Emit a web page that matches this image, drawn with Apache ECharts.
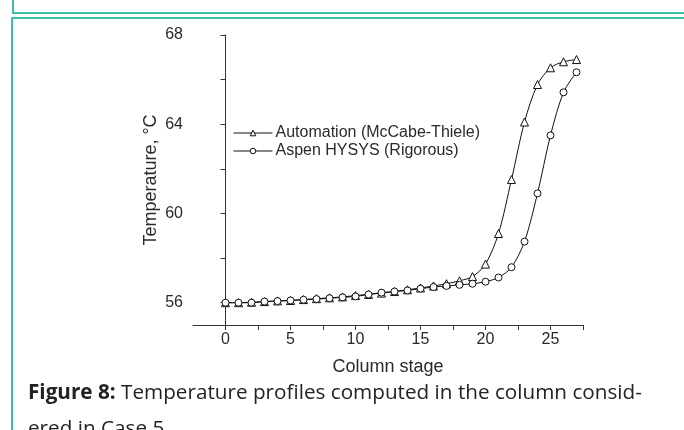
<!DOCTYPE html>
<html>
<head>
<meta charset="utf-8">
<script src="https://cdn.jsdelivr.net/npm/echarts@6/dist/echarts.min.js"></script>
<style>
html,body{margin:0;padding:0;background:#fff;}
#c{width:684px;height:430px;}
</style>
</head>
<body>
<div id="c"></div>
<script>
var stages = [0,1,2,3,4,5,6,7,8,9,10,11,12,13,14,15,16,17,18,19,20,21,22,23,24,25,26,27];
var automation = [56.0,56.0,56.02,56.05,56.08,56.1,56.14,56.18,56.22,56.26,56.32,56.37,56.43,56.5,56.58,56.66,56.75,56.85,56.98,57.17,57.73,59.1,61.52,64.1,65.78,66.53,66.8,66.9];
var aspen = [56.0,56.0,56.0,56.05,56.07,56.1,56.13,56.16,56.2,56.24,56.28,56.37,56.45,56.5,56.55,56.63,56.7,56.75,56.8,56.85,56.94,57.13,57.59,58.74,60.9,63.5,65.43,66.33];
var seriesNames = ['Automation (McCabe-Thiele)', 'Aspen HYSYS (Rigorous)'];
var yLabels = [56, 60, 64, 68];
var yTicks = [56, 58, 60, 62, 64, 66, 68];
var xLabels = [0, 5, 10, 15, 20, 25];
var xTicks = [0, 2.5, 5, 7.5, 10, 12.5, 15, 17.5, 20, 22.5, 25, 27.5];
var xName = 'Column stage';
var yName = 'Temperature, \u00b0C';
var captionBold = 'Figure 8:';
var captionLine1 = ' Temperature profiles computed in the column consid-';
var captionLine2 = 'ered in Case 5';

function pairs(xs, ys){ return xs.map(function(x,i){ return [x, ys[i]]; }); }

var chart = echarts.init(document.getElementById('c'), null, {renderer:'canvas'});
var axisColor = '#333';
var textColor = '#2a2a2a';
var teal = '#3dbfa3';
var font = 'Liberation Sans, Arial';
var hollow = {color: '#fff', borderColor: '#111', borderWidth: 1};
chart.setOption({
  backgroundColor: '#fff',
  animation: false,
  grid: {left: 193, right: 101, top: 35, bottom: 105, containLabel: false},
  legend: {
    orient: 'vertical', left: 228, top: 120,
    itemWidth: 39, itemHeight: 7, itemGap: 2,
    lineStyle: {width: 1, color: '#111'},
    itemStyle: hollow,
    textStyle: {fontFamily: font, fontSize: 16, color: textColor, padding: [0,0,0,-2]},
    data: seriesNames.map(function(n){ return {name: n, itemStyle: hollow}; })
  },
  xAxis: {
    type: 'value', min: -2.5, max: 27.5,
    name: xName, nameLocation: 'middle', nameGap: 33,
    nameTextStyle: {fontFamily: font, fontSize: 18, color: textColor},
    splitLine: {show: false},
    axisLine: {show: true, lineStyle: {color: axisColor, width: 1}},
    axisTick: {show: true, length: 5, lineStyle: {color: axisColor}, customValues: xTicks},
    axisLabel: {customValues: xLabels, fontFamily: font, fontSize: 16, color: textColor, margin: 7}
  },
  yAxis: {
    type: 'value', min: 55, max: 68,
    name: yName, nameLocation: 'middle', nameGap: 33, nameMoveOverlap: false,
    nameTextStyle: {fontFamily: font, fontSize: 18, color: textColor},
    splitLine: {show: false},
    axisLine: {show: true, lineStyle: {color: axisColor, width: 1}},
    axisTick: {show: true, length: 5, lineStyle: {color: axisColor}, customValues: yTicks},
    axisLabel: {customValues: yLabels, fontFamily: font, fontSize: 16, color: textColor, margin: 10}
  },
  series: [
    {
      name: seriesNames[0], type: 'line', data: pairs(stages, automation),
      smooth: 0.3, symbol: 'triangle', symbolSize: 8, showAllSymbol: true,
      lineStyle: {color: '#111', width: 1},
      itemStyle: hollow
    },
    {
      name: seriesNames[1], type: 'line', data: pairs(stages, aspen),
      smooth: 0.3, symbol: 'circle', symbolSize: 7, showAllSymbol: true,
      lineStyle: {color: '#111', width: 1},
      itemStyle: hollow
    }
  ],
  graphic: [
    {type: 'polyline', shape: {points: [[13,0],[13,13],[684,13]]}, style: {stroke: teal, lineWidth: 2, fill: null}},
    {type: 'polyline', shape: {points: [[684,18],[12,18],[12,430]]}, style: {stroke: teal, lineWidth: 2, fill: null}},
    {type: 'text', left: 28, top: 383, style: {
      rich: {b: {fontFamily: 'Open Sans', fontWeight: 'bold', fontSize: 20.7, fill: '#222'},
             n: {fontFamily: 'Open Sans', fontSize: 20.7, fill: '#222'}},
      text: '{b|' + captionBold + '}{n|' + captionLine1 + '}'
    }},
    {type: 'text', left: 28, top: 419, style: {fontFamily: 'Open Sans', fontSize: 20.7, fill: '#222', text: captionLine2}}
  ]
});
</script>
</body>
</html>
